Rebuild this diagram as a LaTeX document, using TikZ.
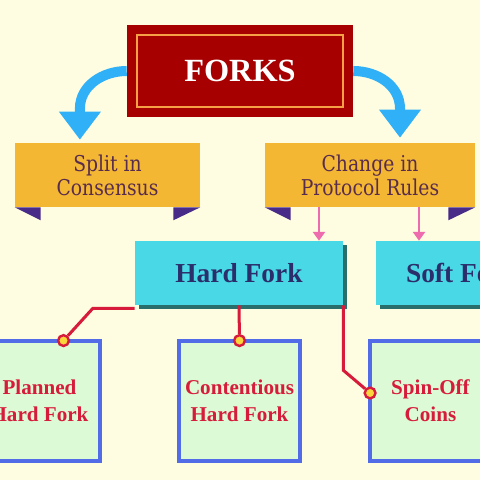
\documentclass[tikz,border=0pt]{standalone}
\usepackage{fontspec}
\usepackage{xcolor}
\usepackage{tikz}
\usetikzlibrary{arrows.meta, positioning, shadows}

\setmainfont{Liberation Serif}
\newfontfamily\bannerfont{DejaVu Serif}[FakeStretch=0.86]

\definecolor{bgcream}{RGB}{254,253,225}
\definecolor{forksred}{RGB}{166,0,0}
\definecolor{forksline}{RGB}{245,160,70}
\definecolor{arrowblue}{RGB}{48,176,246}
\definecolor{bannerorange}{RGB}{244,183,52}
\definecolor{tailpurple}{RGB}{72,42,136}
\definecolor{bannertext}{RGB}{88,44,76}
\definecolor{pinkarrow}{RGB}{238,108,174}
\definecolor{forkcyan}{RGB}{72,216,230}
\definecolor{forkshadow}{RGB}{42,110,108}
\definecolor{forktext}{RGB}{44,46,108}
\definecolor{typegreen}{RGB}{221,250,214}
\definecolor{typeblue}{RGB}{82,108,232}
\definecolor{linkred}{RGB}{214,28,58}
\definecolor{dotyellow}{RGB}{250,214,60}

\begin{document}
\begin{tikzpicture}[
    % one unit = one pixel of the 480x480 sheet, y going down
    x=0.025cm, y=-0.025cm,
    title/.style={rectangle, fill=forksred, minimum width=5.65cm, minimum height=2.3cm, text=white, font=\fontsize{23}{27}\selectfont\bfseries},
    % orange ribbons with purple tails
    banner/.style={rectangle, fill=bannerorange, minimum height=1.6cm, align=center, text=bannertext, font=\bannerfont\fontsize{15.5}{17}\selectfont},
    tail/.style={fill=tailpurple},
    % cyan boxes with a hard shadow
    forkbox/.style={rectangle, fill=forkcyan, minimum height=1.6cm, text=forktext, font=\fontsize{19.5}{23}\selectfont\bfseries, drop shadow={shadow xshift=0.1cm, shadow yshift=-0.1cm, fill=forkshadow, opacity=1}},
    % green squares of the bottom row
    typebox/.style={rectangle, draw=typeblue, line width=0.1cm, outer sep=0pt, fill=typegreen, minimum width=3.02cm, minimum height=3.02cm, align=center, text=linkred, font=\fontsize{15}{19}\selectfont\bfseries},
    bigarrow/.style={-{Triangle[width=1cm, length=0.7cm]}, draw=arrowblue, line width=0.25cm},
    smallarrow/.style={-{Triangle[width=0.3cm, length=0.22cm]}, draw=pinkarrow, line width=0.07cm},
    link/.style={draw=linkred, line width=0.075cm},
    dot/.style={circle, draw=linkred, fill=dotyellow, line width=0.06cm, inner sep=0pt, minimum size=0.27cm}
]

% Background and frame of the sheet
\fill[bgcream] (0,0) rectangle (480,480);
\useasboundingbox (0,0) rectangle (480,480);
\clip (0,0) rectangle (480,480);

% 1. Title
\node[title] (forks) at (240,71) {FORKS};
\draw[forksline, line width=0.05cm] ([shift={(0.25cm,-0.25cm)}]forks.north west) rectangle ([shift={(-0.25cm,0.25cm)}]forks.south east);

% 2. Ribbons
\node[banner, minimum width=4.625cm] (split) at (107.5,175) {Split in\\Consensus};
\fill[tail] (split.south west) -- ++(26,0) -- ++(0,13) -- cycle;
\fill[tail] (split.south east) -- ++(-27,0) -- ++(0,13) -- cycle;

\node[banner, minimum width=5.25cm] (change) at (370,175) {Change in\\Protocol Rules};
\fill[tail] (change.south west) -- ++(26,0) -- ++(0,13) -- cycle;
\fill[tail] (change.south east) -- ++(-27,0) -- ++(0,13) -- cycle;

% 3. Hard Fork / Soft Fork
\node[forkbox, minimum width=5.2cm] (hard) at (239,273) {Hard Fork};
\node[forkbox, minimum width=4.3cm] (soft) at (462,273) {Soft Fork};

% 4. Kinds of hard fork
\node[typebox] (planned) at (39.5,401) {Planned\\Hard Fork};
\node[typebox] (contentious) at (239.5,401) {Contentious\\Hard Fork};
\node[typebox] (spinoff) at (430.5,401) {Spin-Off\\Coins};

\node[dot] (dotplanned) at ([xshift=0.6cm]planned.north) {};
\node[dot] (dotcont) at (contentious.north) {};
\node[dot] (dotspin) at ([yshift=0.2cm]spinoff.west) {};

% 5. Arrows and links
\draw[bigarrow] (forks.west) to[out=180, in=90] ([xshift=-0.69cm, yshift=0.85cm]split.north) -- ([xshift=-0.69cm, yshift=0.075cm]split.north);
\draw[bigarrow] (forks.east) to[out=0, in=90] ([xshift=0.75cm, yshift=0.85cm]change.north) -- ([xshift=0.75cm, yshift=0.125cm]change.north);

\draw[smallarrow] ([xshift=-1.275cm]change.south) -- ([xshift=-1.275cm]change.south |- hard.north);
\draw[smallarrow] ([xshift=1.225cm]change.south) -- ([xshift=1.225cm]change.south |- soft.north);

\draw[link] ([yshift=-0.08cm]hard.south west) -- ++(-42,0) -- (dotplanned);
\draw[link] (hard.south) -- (dotcont);
\draw[link] (hard.south east) -- ++(0,65) -- (dotspin);

\end{tikzpicture}
\end{document}
